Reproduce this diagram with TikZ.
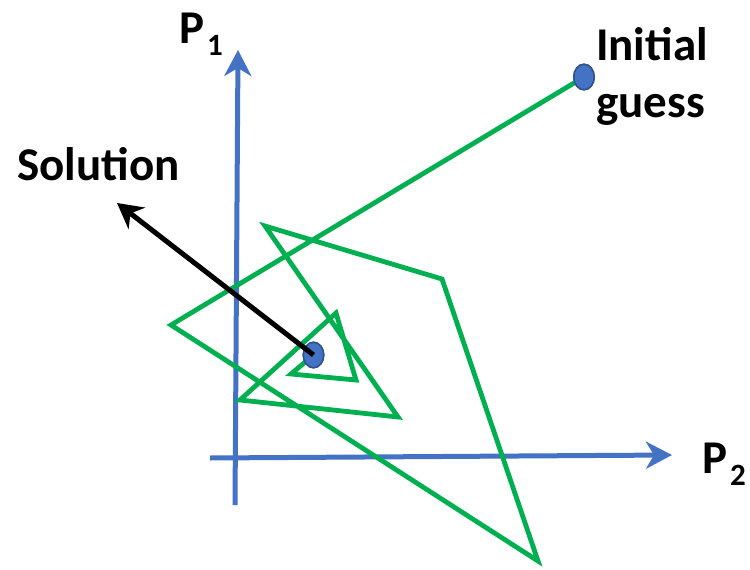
\documentclass[tikz,border=0pt]{standalone}
\usepackage{fontspec}
\setmainfont{Carlito}
\usetikzlibrary{arrows.meta,shapes.geometric}
\definecolor{axisblue}{HTML}{4472C4}
\definecolor{dotedge}{HTML}{2F528F}
\definecolor{iter}{HTML}{00B050}
\newcommand{\lowsub}[1]{\kern3pt\raisebox{-12pt}{\fontsize{31}{31}\selectfont #1}}
\tikzset{axisline/.style={draw=axisblue,line width=5pt,-{Stealth[length=26pt,width=27pt,inset=8pt]}},iterpath/.style={draw=iter,line width=4.8pt},estdot/.style={ellipse,draw=dotedge,fill=axisblue,line width=1.5pt,minimum width=20.5pt,minimum height=25.5pt,inner sep=0pt},pointer/.style={draw=black,line width=5pt,-{Stealth[length=25pt,width=27pt,inset=8pt]}},lbl/.style={font=\bfseries\fontsize{47}{57}\selectfont,inner sep=0pt}}

\begin{document}
\begin{tikzpicture}[x=1pt,y=-1pt]
\useasboundingbox (0,0) rectangle (750,570);
% axes
\coordinate (vlo) at (235,505);
\coordinate (vhi) at (238,50);
\coordinate (hlo) at (210,458);
\coordinate (hhi) at (672,455);
\draw[axisline] (vlo)--(vhi);
\draw[axisline] (hlo)--(hhi);
\node[lbl,anchor=base west] (ponelbl) at (179,43) {P\lowsub{1}};
\node[lbl,anchor=base west] (ptwolbl) at (702,473) {P\lowsub{2}};
% iterates
\node[estdot] (guess) at (584,77) {};
\node[estdot] (sol) at (313.5,355) {};
\coordinate (s1) at (171,325);
\coordinate (s2) at (538,561);
\coordinate (s3) at (442,279);
\coordinate (s4) at (265,226);
\coordinate (s5) at (398,417);
\coordinate (s6) at (240,400);
\coordinate (s7) at (336,313);
\coordinate (s8) at (356,380);
\coordinate (s9) at (291,374);
\draw[iterpath] (guess.center)--(s1)--(s2)--(s3)--(s4)--(s5)--(s6)--(s7)--(s8)--(s9)--(sol.center);
\node[estdot] at (guess) {};
\node[estdot] at (sol) {};
% labels
\node[lbl,align=left,anchor=base west] (guesstxt) at (596,117) {Initial\\guess};
\node[lbl,anchor=base west] (soltxt) at (17,180) {Solution};
\coordinate (soltip) at (117,203);
\draw[pointer] (sol.center)--(soltip);
\end{tikzpicture}
\end{document}
